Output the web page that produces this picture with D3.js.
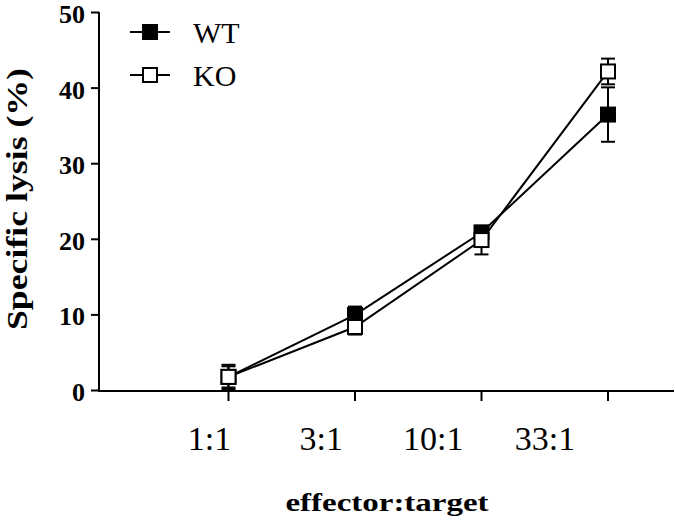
<!DOCTYPE html>
<html><head><meta charset="utf-8">
<script src="https://cdn.jsdelivr.net/npm/d3@7"></script>
<style>body{margin:0;background:#fff}svg{display:block}text{font-family:"Liberation Serif","Times New Roman",serif}</style>
</head><body><svg id="c" width="675" height="522"></svg>
<script>
const categories = ["1:1","3:1","10:1","33:1"];
const wtValues = [1.8, 10.0, 20.9, 36.5];
const wtErrors = [1.4, 1.1, 0.8, 3.6];
const koValues = [1.8, 8.4, 19.9, 42.2];
const koErrors = [1.6, 1.0, 1.9, 1.7];
const yTicks = [0,10,20,30,40,50];
const seriesNames = ["WT","KO"];

const svg = d3.select("#c");
const x = d3.scalePoint().domain(categories).range([228.5, 608]);
const xLab = d3.scalePoint().domain(categories).range([209.5, 545]);
const y = d3.scaleLinear().domain([0,50]).range([390.5, 12.5]);

// axes
svg.append("line").attr("x1",99).attr("x2",99).attr("y1",12).attr("y2",391.5).attr("stroke","#000").attr("stroke-width",2);
svg.append("line").attr("x1",98).attr("x2",674).attr("y1",391).attr("y2",391).attr("stroke","#000").attr("stroke-width",2);
yTicks.forEach(t=>{
  svg.append("line").attr("x1",91).attr("x2",99).attr("y1",y(t)).attr("y2",y(t)).attr("stroke","#000").attr("stroke-width",2);
  svg.append("text").attr("x",85).attr("y",y(t)+10.5).attr("text-anchor","end").attr("font-size",26).attr("font-weight","bold").text(t);
});
categories.forEach(c=>{
  svg.append("line").attr("x1",x(c)).attr("x2",x(c)).attr("y1",391).attr("y2",401).attr("stroke","#000").attr("stroke-width",2);
  svg.append("text").attr("x",xLab(c)).attr("y",450).attr("text-anchor","middle").attr("font-size",34).text(c);
});
svg.append("text").attr("x",387).attr("y",511).attr("text-anchor","middle").attr("font-size",25).attr("font-weight","bold")
  .attr("textLength",203).attr("lengthAdjust","spacingAndGlyphs").text("effector:target");
svg.append("text").attr("transform","translate(27,199) rotate(-90)").attr("text-anchor","middle").attr("font-size",30).attr("font-weight","bold")
  .attr("textLength",262).attr("lengthAdjust","spacingAndGlyphs").text("Specific lysis (%)");

function drawSeries(vals, errs){
  const line = d3.line().x((d,i)=>x(categories[i])).y(d=>y(d));
  svg.append("path").attr("d",line(vals)).attr("fill","none").attr("stroke","#000").attr("stroke-width",2);
  vals.forEach((v,i)=>{
    const cx = x(categories[i]);
    const g = svg.append("g");
    g.append("line").attr("x1",cx).attr("x2",cx).attr("y1",y(v-errs[i])).attr("y2",y(v+errs[i])).attr("stroke","#000").attr("stroke-width",2);
    [v-errs[i], v+errs[i]].forEach(e=>g.append("line").attr("x1",cx-7).attr("x2",cx+7).attr("y1",y(e)).attr("y2",y(e)).attr("stroke","#000").attr("stroke-width",2));
  });
}
function drawMarkers(vals, fill){
  vals.forEach((v,i)=>{
    svg.append("rect").attr("x",x(categories[i])-7).attr("y",y(v)-7).attr("width",14).attr("height",14)
      .attr("fill",fill).attr("stroke","#000").attr("stroke-width",2);
  });
}
drawSeries(wtValues, wtErrors);
drawSeries(koValues, koErrors);
drawMarkers(wtValues, "#000");
drawMarkers(koValues, "#fff");

// legend
const legend = [[seriesNames[0],"#000",32],[seriesNames[1],"#fff",75]];
legend.forEach(([name,fill,ly])=>{
  svg.append("line").attr("x1",130).attr("x2",170).attr("y1",ly).attr("y2",ly).attr("stroke","#000").attr("stroke-width",2);
  svg.append("rect").attr("x",143).attr("y",ly-7).attr("width",14).attr("height",14).attr("fill",fill).attr("stroke","#000").attr("stroke-width",2);
  svg.append("text").attr("x",193).attr("y",ly+10.5).attr("font-size",30).text(name);
});
</script></body></html>
